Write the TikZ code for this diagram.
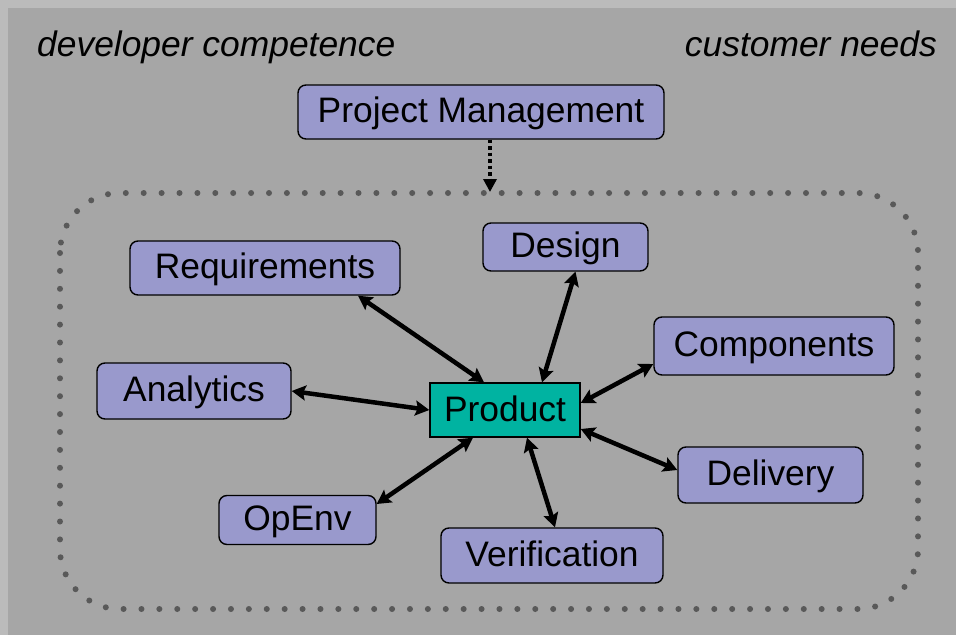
\documentclass[tikz,border=0pt]{standalone}
\usepackage{fontspec}
\setmainfont{Liberation Sans}
\usetikzlibrary{arrows.meta,calc}
\definecolor{bgout}{HTML}{BBBBBB}
\definecolor{bgin}{HTML}{A6A6A6}
\definecolor{boxfill}{HTML}{9999CC}
\definecolor{prodfill}{HTML}{00B3A1}
\definecolor{dotgray}{HTML}{595959}
\begin{document}
\begin{tikzpicture}[x=1pt,y=-1pt,
  every node/.style={font=\fontsize{35.4pt}{42pt}\selectfont},
  blk/.style={draw=black,line width=1.4pt,fill=boxfill,rounded corners=8pt,
    inner sep=0pt,text height=25.5pt,text depth=4.5pt,align=center},
  prodbox/.style={draw=black,line width=1.4pt,fill=prodfill,
    inner sep=0pt,text height=25.5pt,text depth=2pt},
  link/.style={line width=4.5pt,{Stealth[length=14pt,width=15pt,inset=2.5pt]}-{Stealth[length=14pt,width=15pt,inset=2.5pt]}},
  lbl/.style={inner sep=0pt,font=\fontsize{35.4pt}{42pt}\selectfont\itshape}]
\useasboundingbox (0,0) rectangle (956,635);
\fill[bgout] (0,0) rectangle (956,635);
\fill[bgin] (8,8) rectangle (956,635);

\node[lbl,anchor=base west] (dev) at (37,56) {developer competence};
\node[lbl,anchor=base east] (cust) at (937,56) {customer needs};

\draw[dotgray,line width=6pt,line cap=round,dash pattern=on 0pt off 17.9pt,rounded corners=60pt]
  (60,193) rectangle (918,609);

\node[blk,minimum width=366pt,minimum height=54pt] (pm) at (481,112) {Project Management};
\node[blk,minimum width=270pt,minimum height=54pt] (req) at (265,268) {Requirements};
\node[blk,minimum width=165pt,minimum height=48pt] (des) at (565.5,247) {Design};
\node[blk,minimum width=240pt,minimum height=58pt] (comp) at (774,346) {Components};
\node[blk,minimum width=194pt,minimum height=56pt] (ana) at (194,391) {Analytics};
\node[prodbox,minimum width=150pt,minimum height=54pt] (prod) at (505,410) {Product};
\node[blk,minimum width=185pt,minimum height=56pt] (del) at (770.5,475) {Delivery};
\node[blk,minimum width=157pt,minimum height=49pt] (op) at (297.5,520) {OpEnv};
\node[blk,minimum width=222pt,minimum height=55pt] (ver) at (552,555.5) {Verification};

\coordinate (gate) at (490,192);
\draw[line width=4.5pt,dash pattern=on 3.5pt off 3pt,-{Triangle[length=13pt,width=13pt]}]
  ([xshift=9pt]pm.south) -- (gate);

\draw[link] ([xshift=93pt]req.south) -- ([xshift=-21pt]prod.north);
\draw[link] ([xshift=10pt]des.south) -- ([xshift=37pt]prod.north);
\draw[link] ([yshift=-18pt]comp.west) -- ([yshift=7pt]prod.east);
\draw[link] (ana.east) -- (prod.west);
\draw[link] ([yshift=16pt]op.east) -- ([xshift=-32pt]prod.south);
\draw[link] ([xshift=22pt]prod.south) -- ([xshift=3pt]ver.north);
\draw[link] ([yshift=-19pt]prod.east) -- ([yshift=5pt]del.west);
\end{tikzpicture}
\end{document}
